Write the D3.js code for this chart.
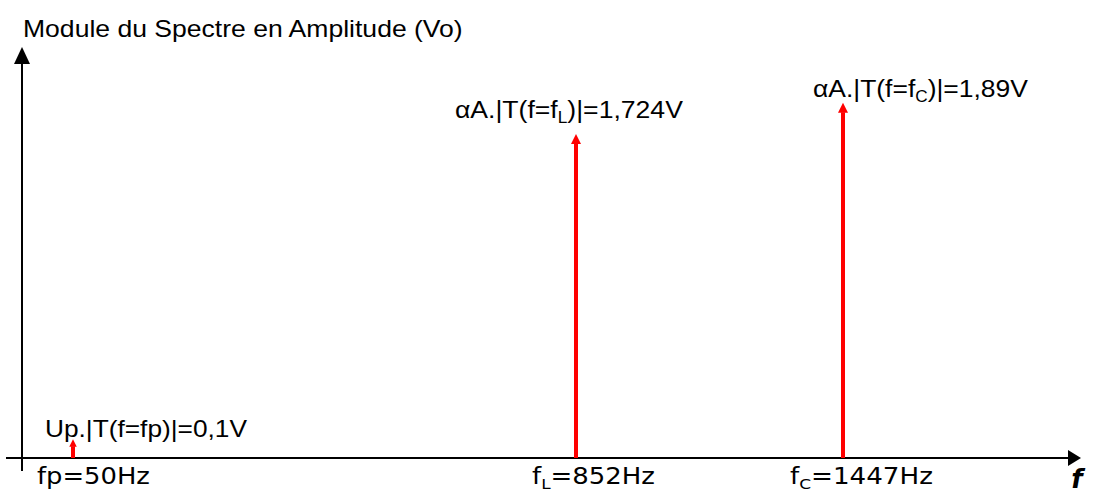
<!DOCTYPE html>
<html>
<head>
<meta charset="utf-8">
<script src="https://cdn.jsdelivr.net/npm/d3@7"></script>
<style>
  html, body { margin: 0; padding: 0; background: #fff; }
  svg { display: block; }
</style>
</head>
<body>
<svg id="chart" width="1096" height="495"></svg>
<script>
// ---- data ----
const frequencies = [50, 852, 1447];            // Hz
const amplitudes  = [0.1, 1.724, 1.89];         // V
const peakLabels  = ["Up.|T(f=fp)|=0,1V", "αA.|T(f=f_L)|=1,724V", "αA.|T(f=f_C)|=1,89V"];
const freqLabels  = ["fp=50Hz", "f_L=852Hz", "f_C=1447Hz"];
const yTitle      = "Module du Spectre en Amplitude (Vo)";
const xTitle      = "f";

// ---- layout ----
const axisX = 22, axisY = 458;
const xRange = [73, 576, 843];
const yDomain = [0, 2], yRange = [458, 82];
const peakLayout = [ {dx: -28, dy: -2,  w: 202}, {dx: -121, dy: -16, w: 228}, {dx: -30, dy: -6, w: 215} ];
const freqLayout = [ {dx: -36, w: 113}, {dx: -44, w: 123}, {dx: -53, w: 143} ];

const svg = d3.select("#chart");
const x = d3.scaleLinear().domain(frequencies).range(xRange);
const y = d3.scaleLinear().domain(yDomain).range(yRange);

// text fitted to a target width by horizontal scaling; "_X" marks a subscript
function addText(parent, str, tx, ty, targetW, font, size) {
  const g = parent.append("g");
  const t = g.append("text").attr("x", 0).attr("y", 0)
    .attr("font-family", font).attr("font-size", size).attr("fill", "#000");
  const parts = str.split(/(_.)/).filter(p => p);
  let pendingUp = 0;
  parts.forEach(p => {
    if (p[0] === "_") {
      t.append("tspan").attr("font-size", size * 0.65).attr("dy", size * 0.22).text(p[1]);
      pendingUp = -size * 0.22;
    } else {
      const ts = t.append("tspan").text(p);
      if (pendingUp) { ts.attr("dy", pendingUp); pendingUp = 0; }
    }
  });
  let sx = 1;
  if (targetW) sx = targetW / t.node().getBBox().width;
  g.attr("transform", `translate(${tx},${ty}) scale(${sx},1)`);
  return g;
}

// axes
svg.append("line").attr("x1", axisX).attr("x2", axisX).attr("y1", 62).attr("y2", 471)
  .attr("stroke", "#000").attr("stroke-width", 2);
svg.append("path").attr("d", `M${axisX},47 L${axisX - 8},64 L${axisX + 8},64 Z`).attr("fill", "#000");
svg.append("line").attr("x1", 6).attr("x2", 1070).attr("y1", axisY).attr("y2", axisY)
  .attr("stroke", "#000").attr("stroke-width", 2);
svg.append("path").attr("d", `M1081,${axisY} L1068,${axisY - 8} L1068,${axisY + 8} Z`).attr("fill", "#000");

// spectral lines (red arrows)
const data = frequencies.map((f, i) => ({f, a: amplitudes[i], i}));
const arrows = svg.append("g");
data.forEach(d => {
  const xp = x(d.f), y0 = y(0), y1 = y(d.a);
  const h = y0 - y1;
  const head = Math.min(10, h * 0.4);
  const hw = Math.min(5, h * 0.2);
  arrows.append("line").attr("x1", xp).attr("x2", xp).attr("y1", y0).attr("y2", y1 + head - 0.5)
    .attr("stroke", "#ff0000").attr("stroke-width", 4);
  arrows.append("path").attr("d", `M${xp},${y1} L${xp - hw},${y1 + head} L${xp + hw},${y1 + head} Z`)
    .attr("fill", "#ff0000");
});

// peak labels
data.forEach(d => {
  const L = peakLayout[d.i];
  addText(svg, peakLabels[d.i], x(d.f) + L.dx, y(d.a) + L.dy, L.w, "Liberation Sans, Arial, sans-serif", 24);
});

// frequency labels
data.forEach(d => {
  const L = freqLayout[d.i];
  addText(svg, freqLabels[d.i], x(d.f) + L.dx, axisY + 26, L.w, "DejaVu Sans, Verdana, sans-serif", 23);
});

// titles
addText(svg, yTitle, 23, 37, 440, "Liberation Sans, Arial, sans-serif", 24);
svg.append("text").attr("x", 1077).attr("y", 488).attr("text-anchor", "middle")
  .attr("font-family", "DejaVu Sans, Verdana, sans-serif").attr("font-size", 26)
  .attr("font-weight", "bold").attr("font-style", "italic").text(xTitle);
</script>
</body>
</html>
